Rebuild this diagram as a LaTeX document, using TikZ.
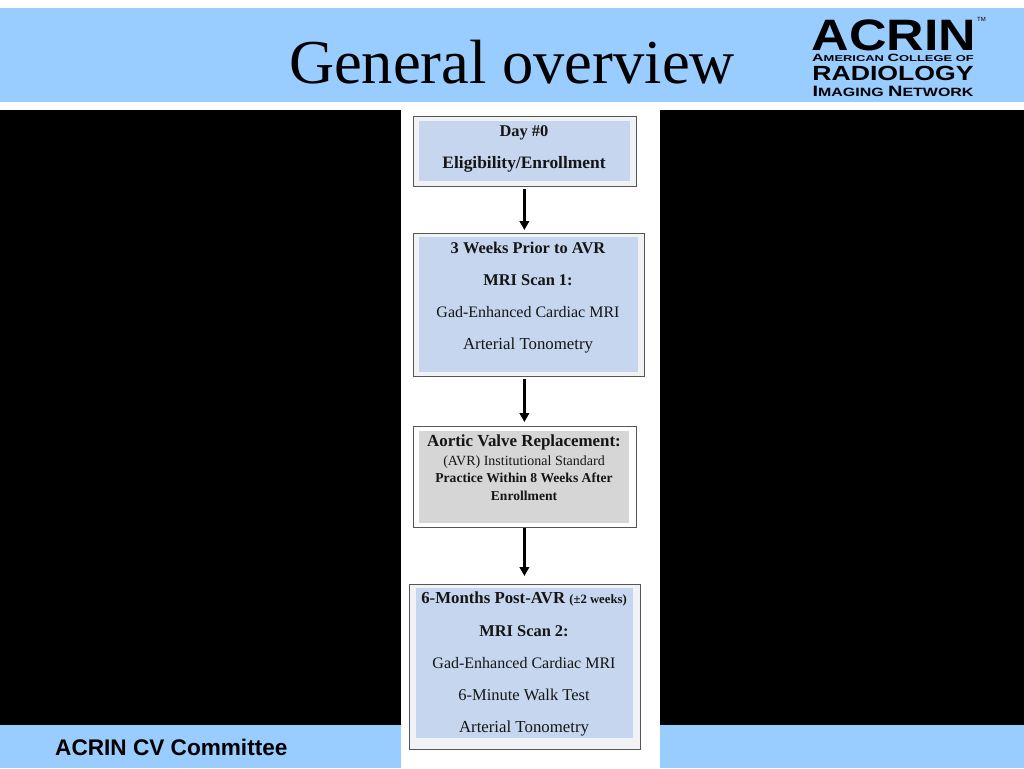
\documentclass[tikz,border=0pt]{standalone}
\usepackage{fontspec}
\setmainfont{Liberation Serif}
\setsansfont{Liberation Sans}
\usepackage{xcolor}
\usetikzlibrary{arrows.meta,positioning}
\definecolor{slideblue}{HTML}{99CCFF}
\definecolor{boxblue}{HTML}{C5D6EE}
\definecolor{boxgray}{HTML}{D6D6D6}
\definecolor{boxedge}{HTML}{555555}
\definecolor{boxpale}{HTML}{F0F2F5}
\definecolor{inktext}{HTML}{151515}
\tikzset{
  outerbox/.style={draw=boxedge,line width=1.2pt,fill=boxpale,inner sep=0pt,anchor=north west},
  innerbox/.style={fill=boxblue,inner sep=0pt,anchor=north west},
  flowline/.style={line width=3pt,-{Triangle[length=9pt,width=9.5pt]},black},
  boldline/.style={font=\fontsize{16.4}{17}\selectfont\bfseries,text=inktext,inner sep=0pt,anchor=base},
  plainline/.style={font=\fontsize{16}{17}\selectfont,text=inktext,inner sep=0pt,anchor=base},
  smallbold/.style={font=\fontsize{13.6}{14}\selectfont\bfseries,text=inktext,inner sep=0pt,anchor=base},
  logotext/.style={text=black,inner sep=0pt,anchor=base}
}
\begin{document}
\begin{tikzpicture}[x=1pt,y=-1pt]
\useasboundingbox (0,0) rectangle (1024,768);
%slide background
\fill[white] (0,0) rectangle (1024,768);
\fill[slideblue] (0,8) rectangle (1024,102);
\fill[slideblue] (0,725) rectangle (1024,768);
\fill[black] (0,110) rectangle (1024,725);
\fill[white] (401,102) rectangle (660,768);
%title and footer
\node[font=\fontsize{62.5}{63}\selectfont,text=black,inner sep=0pt,anchor=base] (title) at (512,83) {General overview};
\node[font=\sffamily\bfseries\fontsize{22.6}{23}\selectfont,text=black,inner sep=0pt,anchor=base west] (footer) at (55,755) {ACRIN CV Committee};
%logo
\node[logotext,font=\sffamily\bfseries\fontsize{44}{44}\selectfont,xscale=1.18] (acrin) at (894,50) {ACRIN};
\node[logotext,font=\sffamily\fontsize{6}{6}\selectfont,anchor=base west] (tm) at (977,22) {TM};
\node[logotext,font=\sffamily\bfseries\fontsize{10.5}{11}\selectfont,xscale=1.52] (college) at (893,61) {A\fontsize{8.5}{11}\selectfont MERICAN \fontsize{10.5}{11}\selectfont C\fontsize{8.5}{11}\selectfont OLLEGE OF};
\node[logotext,font=\sffamily\bfseries\fontsize{20.5}{21}\selectfont,xscale=1.30] (radiology) at (893,80) {RADIOLOGY};
\node[logotext,font=\sffamily\bfseries\fontsize{15}{15}\selectfont,xscale=1.33] (network) at (893,96.5) {I\fontsize{12}{15}\selectfont MAGING \fontsize{15}{15}\selectfont N\fontsize{12}{15}\selectfont ETWORK};
%box day 0
\node[outerbox,minimum width=223pt,minimum height=70pt] (day0) at (413,116) {};
\node[innerbox,minimum width=211pt,minimum height=60pt] (day0in) at (419,121) {};
\node[boldline] (day0a) at (524,136) {Day \#0};
\node[boldline,font=\fontsize{17.4}{18}\selectfont\bfseries] (day0b) at (524,168) {Eligibility/Enrollment};
%box scan 1
\node[outerbox,minimum width=231pt,minimum height=143pt] (scan1) at (413,233) {};
\node[innerbox,minimum width=219pt,minimum height=135pt] (scan1in) at (419,237) {};
\node[boldline] (scan1a) at (528,253) {3 Weeks Prior to AVR};
\node[boldline] (scan1b) at (528,285) {MRI Scan 1:};
\node[plainline] (scan1c) at (528,317) {Gad-Enhanced Cardiac MRI};
\node[plainline,font=\fontsize{16.8}{17}\selectfont] (scan1d) at (528,349) {Arterial Tonometry};
%box valve
\node[outerbox,fill=white,minimum width=223pt,minimum height=101pt] (avr) at (413,426) {};
\node[innerbox,fill=boxgray,minimum width=210pt,minimum height=92pt] (avrin) at (419,431) {};
\node[boldline,font=\fontsize{16.9}{17}\selectfont\bfseries] (avra) at (524,446) {Aortic Valve Replacement:};
\node[plainline,font=\fontsize{14}{14}\selectfont] (avrb) at (524,465) {(AVR) Institutional Standard};
\node[smallbold] (avrc) at (524,482) {Practice Within 8 Weeks After};
\node[smallbold] (avrd) at (524,500) {Enrollment};
%box scan 2
\node[outerbox,minimum width=231pt,minimum height=165pt] (scan2) at (409,584) {};
\node[innerbox,minimum width=217pt,minimum height=150pt] (scan2in) at (416,588) {};
\node[boldline,font=\fontsize{16.8}{17}\selectfont\bfseries] (scan2a) at (524,603.5) {6-Months Post-AVR \fontsize{12.7}{14}\selectfont(±2 weeks)};
\node[boldline] (scan2b) at (524,636) {MRI Scan 2:};
\node[plainline] (scan2c) at (524,668) {Gad-Enhanced Cardiac MRI};
\node[plainline,font=\fontsize{16.5}{17}\selectfont] (scan2d) at (524,700) {6-Minute Walk Test};
\node[plainline,font=\fontsize{16.8}{17}\selectfont] (scan2e) at (524,732) {Arterial Tonometry};
%arrows
\draw[flowline] ([xshift=-.7pt,yshift=-2pt]day0.south) -- ([xshift=-.7pt,yshift=3pt]day0.south |- scan1.north);
\draw[flowline] ([xshift=-.7pt,yshift=-2pt]day0.south |- scan1.south) -- ([xshift=-.7pt,yshift=4pt]day0.south |- avr.north);
\draw[flowline] ([xshift=-.7pt]avr.south) -- ([xshift=-.7pt,yshift=8pt]avr.south |- scan2.north);
\end{tikzpicture}
\end{document}
